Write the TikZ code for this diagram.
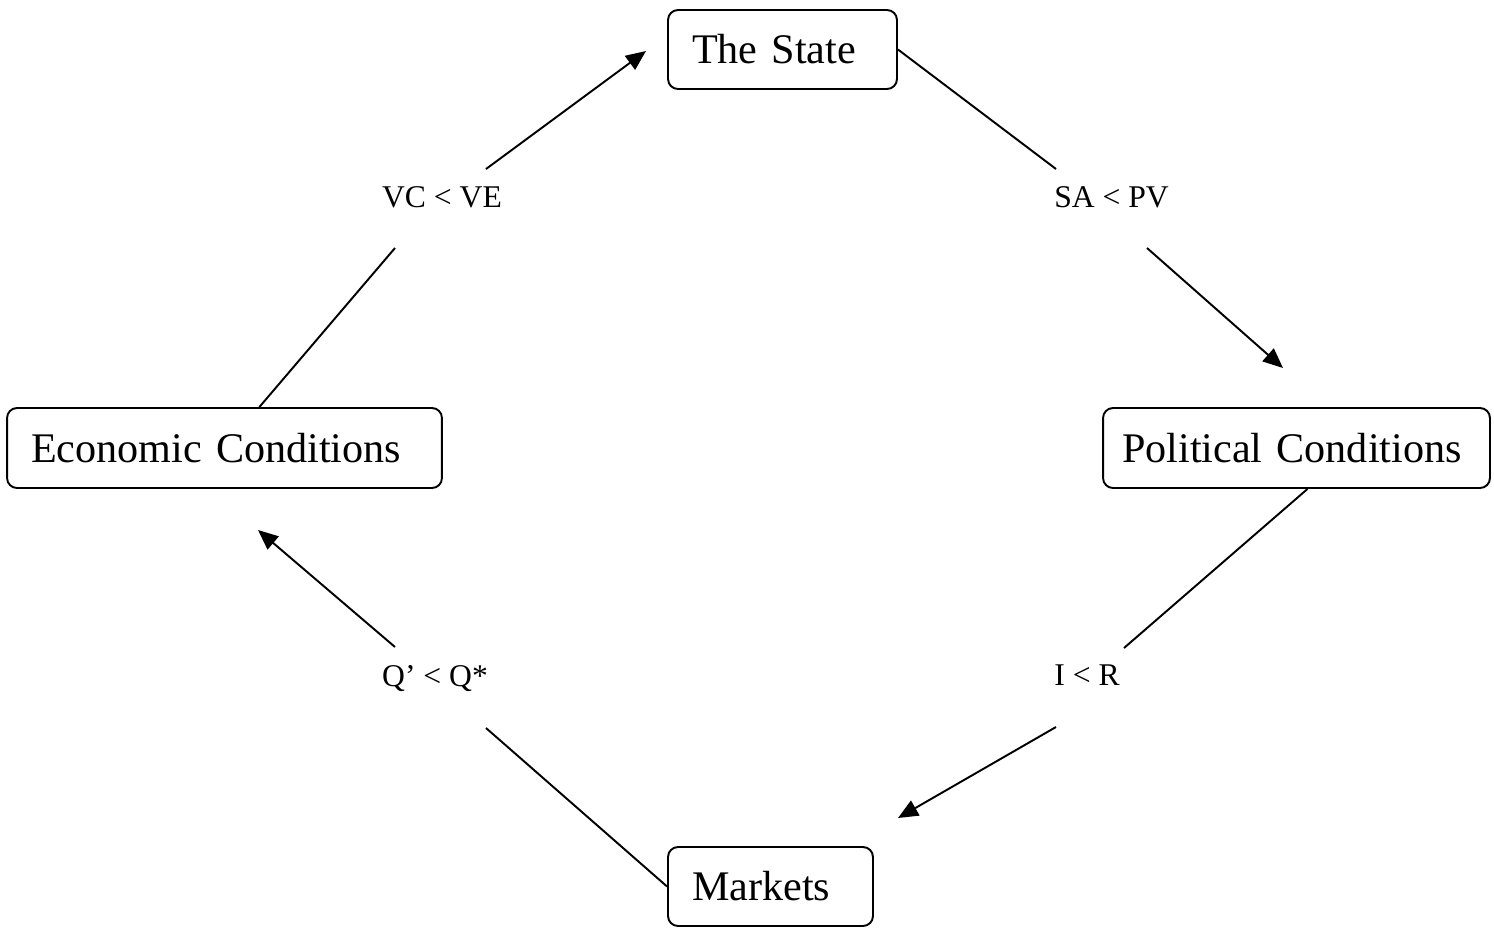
\documentclass[tikz,border=0pt]{standalone}
\usepackage{fontspec}
\setmainfont{Liberation Serif}
\usetikzlibrary{arrows.meta}
\tikzset{
  boxnode/.style={draw,rounded corners=0.2cm,line width=1.1pt,inner xsep=0.48cm,inner ysep=0pt,minimum height=1.6cm,align=left,font=\fontsize{24}{28}\selectfont},
  lblnode/.style={inner sep=0pt,anchor=base,font=\fontsize{18}{21}\selectfont},
  linkline/.style={line width=1.1pt},
  flowarrow/.style={-{Triangle[length=0.4cm,width=0.34cm]},line width=1.1pt},
}
\begin{document}
\begin{tikzpicture}[x=0.02cm,y=-0.02cm]
  \useasboundingbox (0,0) rectangle (1494,927);
  % boxes
  \node[boxnode,text width=3.62cm,minimum height=1.58cm] (state) at (782.5,49.5) {The State};
  \node[boxnode,text width=7.74cm] (econ) at (224.5,448) {Economic Conditions};
  \node[boxnode,inner xsep=0.38cm,text width=6.98cm] (pol) at (1296.5,448) {Political Conditions};
  \node[boxnode,text width=3.14cm,minimum height=1.58cm] (mkt) at (770.5,886.5) {Markets};
  % conditions
  \node[lblnode] (vc) at (442,207) {VC < VE};
  \node[lblnode] (sa) at (1111.5,207) {SA < PV};
  \node[lblnode] (ir) at (1087,685) {I < R};
  \node[lblnode] (qq) at (435,686) {Q’ < Q*};
  % free ends
  \coordinate (vclo) at (395,248);
  \coordinate (vchi) at (486,169);
  \coordinate (statein) at (646,51);
  \coordinate (sahi) at (1056,169);
  \coordinate (salo) at (1147,248);
  \coordinate (polin) at (1283,368);
  \coordinate (irhi) at (1124,648);
  \coordinate (irlo) at (1056,727);
  \coordinate (mktin) at (898,818);
  \coordinate (qlo) at (486,728);
  \coordinate (qhi) at (395,647);
  \coordinate (econin) at (258,530);
  % cycle
  \draw[linkline] (econ) -- (vclo); \draw[flowarrow] (vchi) -- (statein);
  \draw[linkline] (state.east) -- (sahi); \draw[flowarrow] (salo) -- (polin);
  \draw[linkline] (pol.-75) -- (irhi); \draw[flowarrow] (irlo) -- (mktin);
  \draw[linkline] (mkt.west) -- (qlo); \draw[flowarrow] (qhi) -- (econin);
\end{tikzpicture}
\end{document}
